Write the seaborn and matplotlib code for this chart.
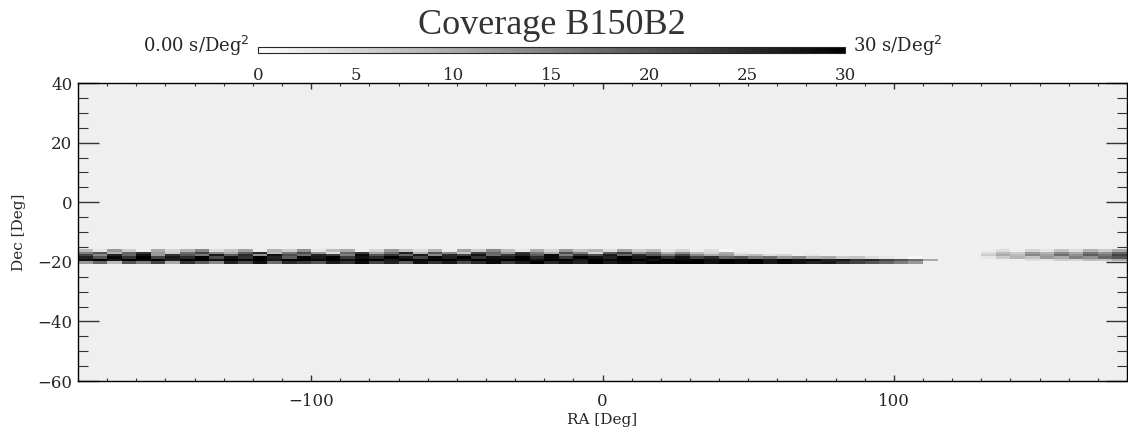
import numpy as np
import pandas as pd
import matplotlib
matplotlib.use("Agg")
import matplotlib.pyplot as plt
import seaborn as sns
from matplotlib.colors import Normalize
from matplotlib.cm import ScalarMappable
from matplotlib.ticker import MultipleLocator

# ---------------- data ----------------
# RA chunk starts (deg), 5-degree chunks from -180 to 180
ra_starts = list(range(-180, 180, 5))
# Dec row centres (deg)
dec_rows = [-16.2, -17.0, -17.8, -18.6, -19.4, -20.2]
# coverage (s/deg^2) per Dec row, per RA chunk (72 chunks)
cov_m16_2 = [8, 3, 12, 6, 0, 10, 5, 9, 14, 4, 7, 11, 2, 9, 6, 13, 3, 8, 10, 0,
             5, 12, 7, 4, 9, 2, 11, 6, 14, 8, 3, 10, 5, 12, 7, 9, 4, 11, 6, 8,
             3, 5, 2, 4, 1, 0, 2, 0, 0, 0, 0, 0, 0, 0, 0, 0, 0, 0, 0, 0,
             0, 0, 2, 4, 0, 5, 3, 7, 4, 9, 6, 10]
cov_m17_0 = [15, 20, 9, 18, 24, 12, 6, 17, 22, 14, 10, 19, 25, 8, 16, 21, 13, 4, 18, 23,
             11, 17, 26, 9, 20, 14, 7, 22, 18, 12, 24, 16, 10, 21, 15, 5, 19, 23, 13, 17,
             9, 14, 8, 5, 10, 3, 2, 0, 0, 0, 0, 0, 0, 0, 0, 0, 0, 0, 0, 0,
             0, 0, 4, 8, 6, 12, 9, 14, 10, 16, 13, 18]
cov_m17_8 = [22, 14, 26, 18, 28, 12, 24, 20, 16, 27, 19, 25, 13, 28, 21, 17, 26, 23, 15, 29,
             20, 24, 18, 27, 14, 25, 22, 28, 17, 23, 26, 19, 29, 15, 24, 21, 27, 18, 25, 20,
             16, 22, 14, 10, 12, 6, 8, 4, 5, 2, 3, 0, 0, 0, 0, 0, 0, 0, 0, 0,
             0, 0, 6, 10, 8, 14, 11, 17, 13, 19, 16, 22]
cov_m18_6 = [26, 20, 29, 24, 30, 22, 27, 25, 30, 21, 28, 24, 30, 26, 19, 29, 27, 30, 23, 28,
             25, 30, 27, 22, 29, 26, 30, 24, 28, 27, 30, 25, 29, 23, 30, 28, 26, 30, 27, 29,
             24, 28, 22, 25, 18, 20, 15, 17, 12, 14, 9, 10, 6, 7, 4, 3, 2, 1, 0, 0,
             0, 0, 3, 6, 9, 7, 12, 10, 15, 13, 18, 20]
cov_m19_4 = [28, 30, 27, 30, 29, 30, 26, 30, 30, 28, 30, 29, 30, 27, 30, 30, 29, 30, 28, 30,
             30, 27, 30, 29, 30, 30, 28, 30, 29, 30, 30, 28, 30, 30, 27, 30, 29, 30, 30, 28,
             30, 29, 30, 28, 30, 29, 30, 27, 30, 28, 29, 26, 27, 24, 25, 22, 20, 17, 10, 0,
             0, 0, 0, 2, 0, 4, 3, 6, 5, 8, 7, 10]
cov_m20_2 = [12, 18, 8, 20, 15, 22, 10, 24, 19, 14, 26, 21, 28, 17, 25, 23, 20, 27, 24, 29,
             22, 26, 19, 28, 24, 27, 21, 25, 29, 23, 27, 30, 25, 28, 26, 30, 27, 29, 28, 30,
             29, 30, 30, 28, 30, 29, 30, 27, 29, 28, 26, 27, 24, 22, 20, 18, 15, 12, 0, 0,
             0, 0, 0, 0, 0, 0, 0, 0, 0, 0, 0, 0]
coverage_rows = [cov_m16_2, cov_m17_0, cov_m17_8, cov_m18_6, cov_m19_4, cov_m20_2]

cbar_ticks = [0, 5, 10, 15, 20, 25, 30]
x_major = [-100, 0, 100]
y_major = [-60, -40, -20, 0, 20, 40]

ra_step = ra_starts[1] - ra_starts[0]
dec_step = dec_rows[0] - dec_rows[1]
rows = []
for dec, vals in zip(dec_rows, coverage_rows):
    for ra, v in zip(ra_starts, vals):
        rows.append({"ra": ra + ra_step / 2, "dec": dec, "cov": v})
df = pd.DataFrame(rows)

ra_edges = np.append(np.array(ra_starts, dtype=float), ra_starts[-1] + ra_step)
dec_edges = np.sort(np.append(np.array(dec_rows) + dec_step / 2, dec_rows[-1] - dec_step / 2))

# ---------------- figure ----------------
sns.set_style("ticks")
plt.rcParams["font.family"] = ["DejaVu Serif", "DejaVu Sans"]

fig = plt.figure(figsize=(11.28, 4.33), dpi=100)
ax = fig.add_axes([78 / 1128, 52 / 433, 1049 / 1128, 298 / 433])
ax.set_facecolor("#efefef")

vmin, vmax = cbar_ticks[0], cbar_ticks[-1]
sns.histplot(data=df, x="ra", y="dec", weights="cov", bins=(ra_edges, dec_edges),
             cmap="gray_r", vmin=vmin, vmax=vmax, thresh=0, cbar=False, ax=ax)

ax.set_xlim(-180, 180)
ax.set_ylim(-60, 40)
ax.set_xticks(x_major)
ax.set_xticklabels([("\u2212" + str(abs(v))) if v < 0 else str(v) for v in x_major])
ax.set_yticks(y_major)
ax.set_yticklabels([("\u2212" + str(abs(v))) if v < 0 else str(v) for v in y_major])
ax.xaxis.set_minor_locator(MultipleLocator(10))
ax.yaxis.set_minor_locator(MultipleLocator(5))
ax.tick_params(axis="x", which="major", direction="in", length=4.3, width=1,
               top=True, bottom=True, labelsize=12, pad=9, color="#333333")
ax.tick_params(axis="x", which="minor", direction="in", length=2.2, width=0.8,
               top=True, bottom=True, color="#333333")
ax.tick_params(axis="y", which="major", direction="in", length=15, width=1,
               left=True, right=True, labelsize=12, pad=4, color="#333333")
ax.tick_params(axis="y", which="minor", direction="in", length=7.2, width=0.8,
               left=True, right=True, color="#333333")
for s in ax.spines.values():
    s.set_linewidth(1.0)
    s.set_color("black")
ax.set_xlabel("RA [Deg]", fontsize=11, labelpad=2)
ax.set_ylabel("Dec [Deg]", fontsize=11, labelpad=8)

# colour bar
cax = fig.add_axes([258 / 1128, (433 - 53) / 433, 587 / 1128, 6 / 433])
sm = ScalarMappable(norm=Normalize(vmin, vmax), cmap="gray_r")
cb = fig.colorbar(sm, cax=cax, orientation="horizontal", ticks=cbar_ticks)
cb.outline.set_linewidth(0.8)
cax.tick_params(length=0, labelsize=12, pad=10)
cax.set_xticklabels([str(t) for t in cbar_ticks])

fig.text(250 / 1128, (433 - 46) / 433, "0.00 s/Deg$^2$", ha="right", va="center", fontsize=13)
fig.text(853 / 1128, (433 - 46) / 433, "30 s/Deg$^2$", ha="left", va="center", fontsize=13)
fig.text(552 / 1128, (433 - 25) / 433, "Coverage B150B2", ha="center", va="center",
         fontsize=26, color="#333333", family=["Liberation Serif"])

fig.savefig("out.png", dpi=100)
